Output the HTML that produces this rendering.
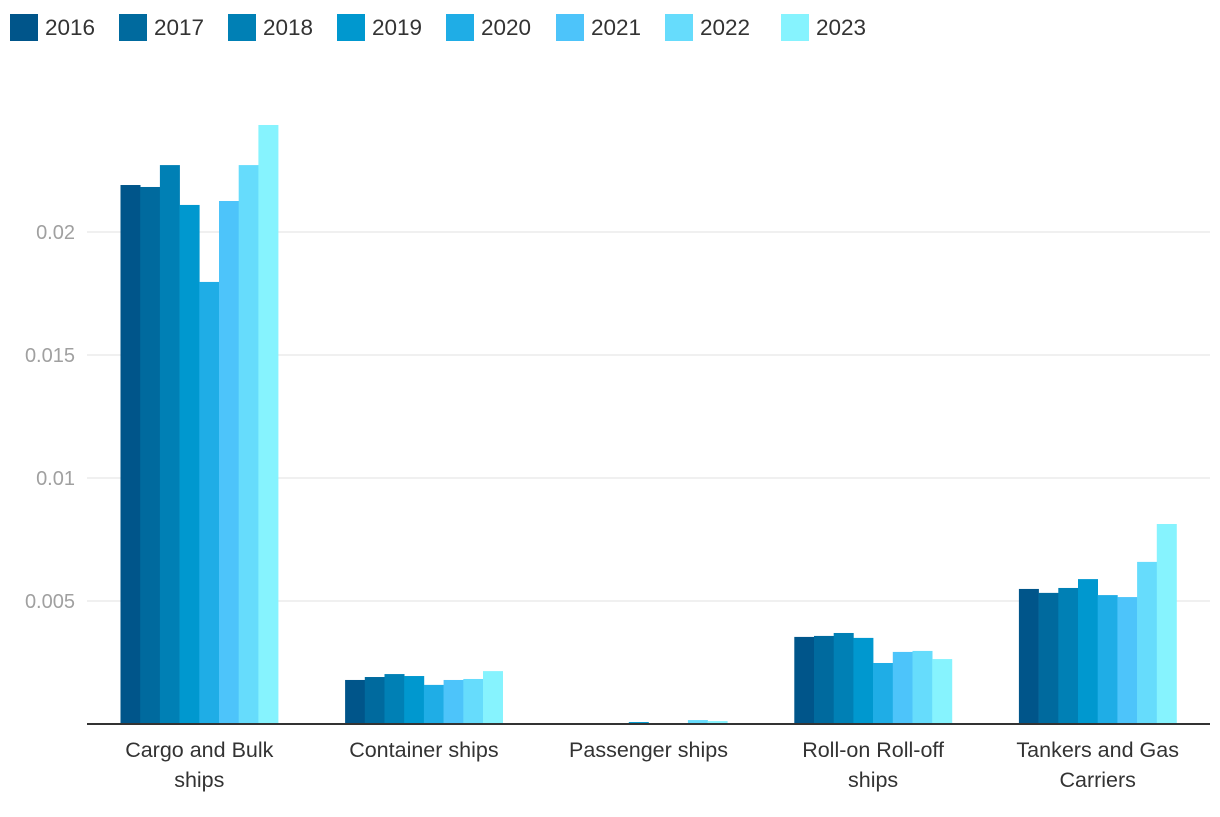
<!DOCTYPE html>
<html><head><meta charset="utf-8"><style>
body{margin:0;background:#fff;font-family:"Liberation Sans",sans-serif;}
</style></head><body>
<svg id="c" width="1220" height="812"></svg>
<script>
const categories=["Cargo and Bulk|ships","Container ships","Passenger ships","Roll-on Roll-off|ships","Tankers and Gas|Carriers"];
const years=["2016","2017","2018","2019","2020","2021","2022","2023"];
const colors=["#00558a","#006a9e","#0080b5","#0098cf","#1fade6","#4dc4fa","#66dcfc","#86f3fe"];
const v2016=[0.02191,0.00179,0.00004,0.00354,0.00549];
const v2017=[0.02183,0.00191,0.00004,0.00358,0.00533];
const v2018=[0.02272,0.00203,0.00004,0.0037,0.00553];
const v2019=[0.0211,0.00195,0.00008,0.0035,0.00589];
const v2020=[0.01797,0.00159,0,0.00248,0.00524];
const v2021=[0.02126,0.00179,0,0.00293,0.00516];
const v2022=[0.02272,0.00183,0.00016,0.00297,0.00659];
const v2023=[0.02435,0.00215,0.00012,0.00264,0.00813];
const series=[v2016,v2017,v2018,v2019,v2020,v2021,v2022,v2023];
const yTicks=[0.005,0.01,0.015,0.02];
const yTickLabels=["0.005","0.01","0.015","0.02"];
const svg=document.getElementById('c');const NS="http://www.w3.org/2000/svg";
const L=87,R=1210,Y0=724,scale=24600;
const y=v=>Y0-v*scale;
const bw=(R-L)/categories.length;
function mk(t,a){const e=document.createElementNS(NS,t);for(const k in a)e.setAttribute(k,a[k]);svg.appendChild(e);return e;}
yTicks.forEach((t,i)=>{
 const g=mk('line',{x1:L,x2:R,y1:y(t),y2:y(t),stroke:'#e0e0e0','stroke-width':1});
 
 
 const tx=mk('text',{x:75,y:y(t)+7,'text-anchor':'end','font-size':20,fill:'#a0a0a0'});tx.textContent=yTickLabels[i];
 
 
});
categories.forEach((c,ci)=>{
 const cx=L+bw*(ci+0.5);const w=19.7;const start=cx-w*4;
 series.forEach((s,si)=>{
  const r=mk('rect',{x:start+si*w,y:y(s[ci]),width:w+0.3,height:Math.max(0,s[ci]*scale),fill:colors[si]});
  
  
 });
 c.split('|').forEach((ln,li)=>{
  const t=mk('text',{x:cx,y:757+li*30,'text-anchor':'middle','font-size':21.5,fill:'#333'});t.textContent=ln;
  
  
 });
});
const ax=mk('line',{x1:L,x2:R,y1:Y0,y2:Y0,stroke:'#333','stroke-width':2});


const lx=[10,119,228,337,446,556,665,781];
years.forEach((yr,i)=>{
 const x=lx[i];
 const r=mk('rect',{x:x,y:14,width:28,height:27,fill:colors[i]});
 
 
 const t=mk('text',{x:x+35,y:35,'font-size':22.5,fill:'#333'});t.textContent=yr;
 
 
});
</script>
</body></html>
